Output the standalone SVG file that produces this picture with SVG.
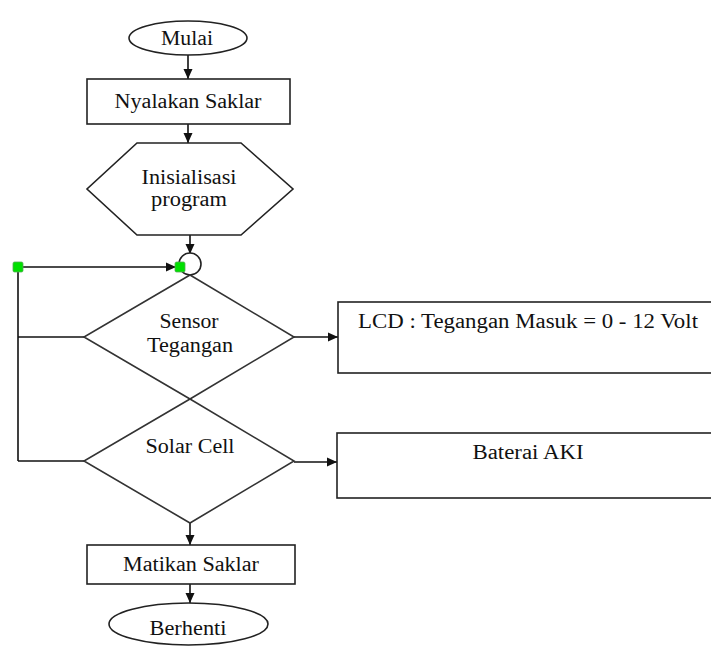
<svg xmlns="http://www.w3.org/2000/svg" width="711" height="647" viewBox="0 0 711 647">
<defs>
<style>
.shape{fill:#fff;stroke:#222;stroke-width:1.6}
.dia{fill:none;stroke:#333;stroke-width:1.6}
.line{fill:none;stroke:#111;stroke-width:1.6}
.lbl{font-family:"Liberation Serif","Times New Roman",serif;font-size:20px;fill:#111;text-anchor:middle}
.dot{fill:#00e000;stroke:#55aa55;stroke-width:0.8}
</style>
<marker id="ah" markerUnits="userSpaceOnUse" markerWidth="10" markerHeight="10" refX="10" refY="5" orient="auto">
<path d="M0,0.5 L10,5 L0,9.5 z" fill="#111"/>
</marker>
</defs>
<g id="connectors">
<line class="line" x1="188" y1="55" x2="188" y2="79" marker-end="url(#ah)"/>
<line class="line" x1="188" y1="124" x2="188" y2="143" marker-end="url(#ah)"/>
<line class="line" x1="190" y1="235" x2="190" y2="254" marker-end="url(#ah)"/>
<polyline class="line" points="18,461 18,267 176,267" marker-end="url(#ah)"/>
<line class="line" x1="84" y1="337" x2="18" y2="337"/>
<line class="line" x1="84" y1="461" x2="18" y2="461"/>
<line class="line" x1="294" y1="337" x2="338" y2="337" marker-end="url(#ah)"/>
<line class="line" x1="294" y1="462" x2="337" y2="462" marker-end="url(#ah)"/>
<line class="line" x1="190" y1="523" x2="190" y2="545" marker-end="url(#ah)"/>
<line class="line" x1="190" y1="584" x2="190" y2="603" marker-end="url(#ah)"/>
</g>
<g id="mulai">
<ellipse class="shape" cx="188" cy="38" rx="59" ry="17"/>
<text class="lbl" x="187" y="45" textLength="52" lengthAdjust="spacingAndGlyphs">Mulai</text>
</g>
<g id="nyalakan">
<rect class="shape" x="87" y="79" width="203" height="45"/>
<text class="lbl" x="188" y="108" textLength="147" lengthAdjust="spacingAndGlyphs">Nyalakan Saklar</text>
</g>
<g id="inisialisasi">
<polygon class="shape" points="137,143 241,143 293,189 241,235 137,235 87,189"/>
<text class="lbl" x="189" y="184" textLength="95" lengthAdjust="spacingAndGlyphs">Inisialisasi</text>
<text class="lbl" x="189" y="206" textLength="76" lengthAdjust="spacingAndGlyphs">program</text>
</g>
<g id="connector-circle">
<circle class="shape" cx="190" cy="264" r="11"/>
</g>
<g id="sensor">
<polygon class="dia" points="190,275 294,337 190,399 84,337"/>
<text class="lbl" x="189" y="328" textLength="59" lengthAdjust="spacingAndGlyphs">Sensor</text>
<text class="lbl" x="190" y="352" textLength="86" lengthAdjust="spacingAndGlyphs">Tegangan</text>
</g>
<g id="solar">
<polygon class="dia" points="190,399 294,461 190,523 84,461"/>
<text class="lbl" x="190" y="453" textLength="89" lengthAdjust="spacingAndGlyphs">Solar Cell</text>
</g>
<g id="lcd">
<rect class="shape" x="338" y="302" width="380" height="71"/>
<text class="lbl" x="528" y="328" textLength="340" lengthAdjust="spacingAndGlyphs">LCD : Tegangan Masuk = 0 - 12 Volt</text>
</g>
<g id="baterai">
<rect class="shape" x="337" y="433" width="380" height="65"/>
<text class="lbl" x="528" y="459" textLength="111" lengthAdjust="spacingAndGlyphs">Baterai AKI</text>
</g>
<g id="matikan">
<rect class="shape" x="87" y="545" width="208" height="39"/>
<text class="lbl" x="191" y="571" textLength="136" lengthAdjust="spacingAndGlyphs">Matikan Saklar</text>
</g>
<g id="berhenti">
<ellipse class="shape" cx="188.5" cy="624" rx="79.5" ry="21"/>
<text class="lbl" x="188" y="635" textLength="77" lengthAdjust="spacingAndGlyphs">Berhenti</text>
</g>
<g id="markers">
<rect class="dot" x="13" y="262" width="10" height="10" rx="1.5"/>
<rect class="dot" x="175" y="262" width="10" height="10" rx="1.5"/>
</g>
</svg>
